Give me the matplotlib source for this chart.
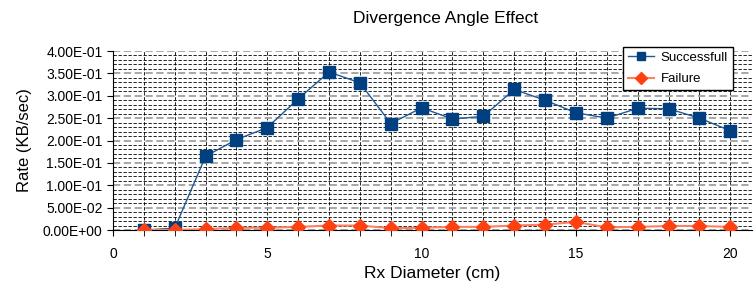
import matplotlib.pyplot as plt
from matplotlib.ticker import MultipleLocator, FuncFormatter

plt.rcParams['font.family'] = ['Liberation Sans', 'DejaVu Sans']

rx_diameter = [1, 2, 3, 4, 5, 6, 7, 8, 9, 10, 11, 12, 13, 14, 15, 16, 17, 18, 19, 20]
successful = [0.0, 0.004, 0.165, 0.202, 0.229, 0.293, 0.353, 0.329, 0.238, 0.273,
              0.248, 0.254, 0.314, 0.290, 0.262, 0.250, 0.272, 0.271, 0.250, 0.222]
failure = [0.0, 0.0, 0.002, 0.005, 0.005, 0.007, 0.010, 0.010, 0.004, 0.005,
           0.007, 0.007, 0.010, 0.012, 0.018, 0.006, 0.007, 0.009, 0.009, 0.007]


def sci_fmt(v, pos):
    s = '{:.2E}'.format(v)
    mant, exp = s.split('E')
    return '{}E{}{:02d}'.format(mant, '-' if int(exp) < 0 else '+', abs(int(exp)))


fig = plt.figure(figsize=(7.56, 2.91), dpi=100)
ax = fig.add_axes([0.1495, 0.2096, 0.845, 0.6151])

ax.plot(rx_diameter, successful, color='#1f5a96', lw=1.0, marker='s', ms=8,
        mfc='#004080', mec='#004080', label='Successfull', zorder=4)
ax.plot(rx_diameter, failure, color='#ff8060', lw=1.5, marker='D', ms=7,
        mfc='#ff4010', mec='#ff4010', label='Failure', zorder=5)

ax.set_xlim(0, 20.7)
ax.set_ylim(0, 0.4)
ax.xaxis.set_major_locator(MultipleLocator(5))
ax.xaxis.set_minor_locator(MultipleLocator(1))
ax.yaxis.set_major_locator(MultipleLocator(0.05))
ax.yaxis.set_minor_locator(MultipleLocator(0.01))
ax.yaxis.set_major_formatter(FuncFormatter(sci_fmt))

ax.grid(axis='x', which='both', color='black', ls=(0, (4, 2)), lw=0.6)
ax.grid(axis='y', which='minor', color='black', ls=(0, (4, 2)), lw=0.6)
ax.grid(axis='y', which='major', color='#a0a0a0', ls=(0, (4, 2)), lw=1.3)
ax.set_axisbelow(True)

for s in ['top', 'right']:
    ax.spines[s].set_visible(False)
ax.tick_params(axis='both', which='major', labelsize=10, length=4, color='black')
ax.tick_params(axis='x', which='minor', length=4)
ax.tick_params(axis='y', which='minor', length=0)
ax.tick_params(axis='x', pad=8)

ax.set_xlabel('Rx Diameter (cm)', fontsize=12.5, labelpad=4)
ax.set_ylabel('Rate (KB/sec)', fontsize=12, labelpad=8)
fig.text(0.589, 0.935, 'Divergence Angle Effect', fontsize=12.5, ha='center', va='center')

leg = ax.legend(loc='upper right', bbox_to_anchor=(0.970, 1.022), borderaxespad=0,
                fontsize=9.5, frameon=True, fancybox=False, edgecolor='black',
                framealpha=1, handlelength=2.0, handletextpad=0.5,
                borderpad=0.35, labelspacing=0.7)
leg.get_frame().set_linewidth(1.0)
for h in leg.legend_handles:
    h.set_markersize(6)

fig.savefig('out.png', dpi=100)
